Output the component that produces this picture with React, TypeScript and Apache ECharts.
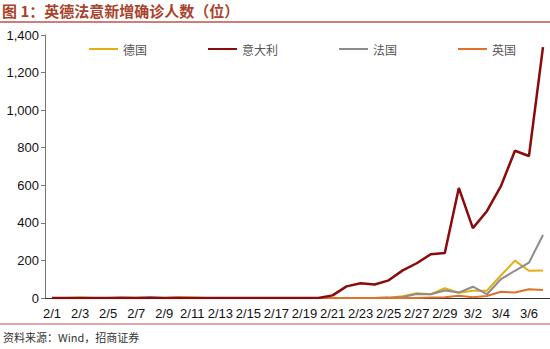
import React, { useEffect, useRef } from "react";
import * as echarts from "echarts";

const dates = [
  "2/1","2/2","2/3","2/4","2/5","2/6","2/7","2/8","2/9","2/10",
  "2/11","2/12","2/13","2/14","2/15","2/16","2/17","2/18","2/19","2/20",
  "2/21","2/22","2/23","2/24","2/25","2/26","2/27","2/28","2/29",
  "3/1","3/2","3/3","3/4","3/5","3/6","3/7",
];
const germany = [
  0,0,3,0,0,0,1,0,0,0, 2,0,0,0,0,0,0,0,0,0, 0,0,0,0,2,10,25,20,52, 28,39,39,120,199,145,147,
];
const italy = [
  0,0,0,0,0,1,0,0,0,0, 0,0,0,0,0,0,0,0,0,0, 14,62,78,72,94,147,185,233,240, 586,372,462,595,784,756,1335,
];
const france = [
  0,0,0,0,0,0,0,5,0,0, 0,0,0,0,0,0,0,0,0,0, 0,0,0,0,2,5,21,20,40, 29,60,20,100,145,188,335,
];
const uk = [
  0,0,0,0,0,0,0,0,0,4, 0,0,0,0,0,0,0,0,0,0, 0,0,0,0,0,0,0,3,4, 12,4,11,33,29,47,43,
];
const seriesNames = ["德国", "意大利", "法国", "英国"];
const colors = ["#E3AE12", "#8B0A0A", "#8C8C8C", "#E0702A"];
const yTicks = { min: 0, max: 1400, interval: 200 };

export default function App() {
  const ref = useRef<HTMLDivElement>(null);
  useEffect(() => {
    if (!ref.current) return;
    const chart = echarts.init(ref.current, null, { renderer: "svg" });
    const data = [germany, italy, france, uk];
    chart.setOption({
      animation: false,
      backgroundColor: "#fff",
      textStyle: { fontFamily: "Liberation Sans, Arial, sans-serif" },
      graphic: [
        {
          type: "text",
          left: 2,
          top: 3,
          style: {
            text: "图 1：英德法意新增确诊人数（位）",
            fontSize: 15,
            fontWeight: "bold",
            fill: "#A9422B",
            fontFamily: "Noto Sans CJK SC, sans-serif",
          },
        },
        {
          type: "line",
          shape: { x1: 0, y1: 22, x2: 550, y2: 22 },
          style: { stroke: "#C0504D", lineWidth: 1.5 },
        },
        {
          type: "line",
          shape: { x1: 0, y1: 324, x2: 550, y2: 324 },
          style: { stroke: "#C0504D", lineWidth: 1 },
        },
        {
          type: "text",
          left: 3,
          top: 331,
          style: {
            text: "资料来源：Wind，招商证券",
            fontSize: 11,
            fill: "#333",
            fontFamily: "Noto Sans CJK SC, sans-serif",
          },
        },
      ],
      legend: {
        left: 84,
        top: 38,
        icon: "rect",
        itemWidth: 29,
        itemHeight: 2,
        itemGap: 61,
        textStyle: {
          fontSize: 12,
          color: "#555",
          fontFamily: "Noto Sans CJK SC, sans-serif",
        },
        data: seriesNames,
      },
      grid: { left: 45, right: -4, top: 35, bottom: 51, containLabel: false },
      xAxis: {
        type: "category",
        data: dates,
        boundaryGap: true,
        axisLine: { lineStyle: { color: "#333", width: 1 } },
        axisTick: { show: false },
        axisLabel: {
          interval: 1,
          fontSize: 13,
          color: "#111",
          margin: 9,
        },
      },
      yAxis: {
        type: "value",
        min: yTicks.min,
        max: yTicks.max,
        interval: yTicks.interval,
        splitLine: { show: false },
        axisLine: { show: true, lineStyle: { color: "#777" } },
        axisTick: { show: true, inside: false, length: 4, lineStyle: { color: "#777" } },
        axisLabel: {
          fontSize: 13,
          color: "#111",
          margin: 6,
          formatter: (v: number) => v.toLocaleString("en-US"),
        },
      },
      series: seriesNames.map((name, i) => ({
        name,
        type: "line",
        data: data[i],
        symbol: "none",
        z: i === 1 ? 5 : 3,
        lineStyle: { color: colors[i], width: i === 1 ? 2.5 : 2 },
        itemStyle: { color: colors[i] },
      })),
    });
    return () => chart.dispose();
  }, []);
  return <div ref={ref} style={{ width: 550, height: 349, position: "absolute", left: 0, top: 0 }} />;
}
